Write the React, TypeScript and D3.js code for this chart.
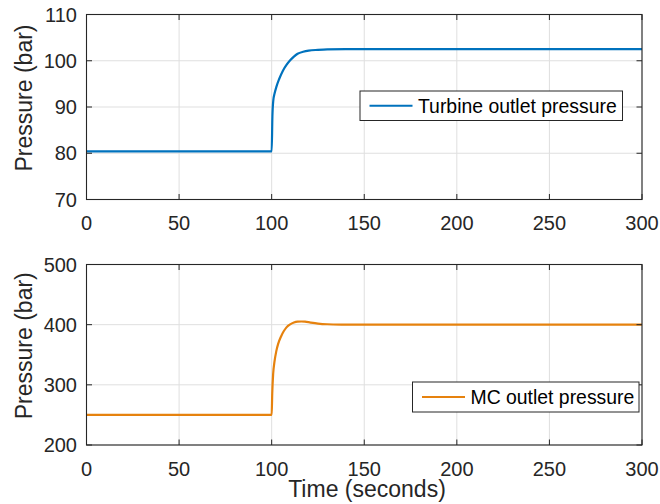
import React from "react";
import * as d3 from "d3";

// Time (s) and pressure (bar) samples for the two outlet pressure traces
const turbineTime = [0, 100, 100.4, 100.9, 101.5, 102.5, 104, 106, 108, 110, 112, 114, 117, 120, 125, 130, 140, 160, 300];
const turbinePressure = [80.4, 80.4, 88, 91.5, 92.8, 94.3, 96.0, 97.8, 99.1, 100.1, 100.9, 101.5, 101.95, 102.2, 102.35, 102.45, 102.5, 102.5, 102.5];

const mcTime = [0, 100, 100.3, 100.8, 101.5, 102.5, 103.5, 105, 106.5, 108, 110, 112, 114, 116, 118, 121, 125, 130, 138, 150, 300];
const mcPressure = [250, 250, 285, 318, 338, 356, 368, 380, 389, 395.5, 400.5, 403.5, 405, 405.3, 405, 403.5, 401.8, 400.7, 400.2, 400, 400];

const xTicks = [0, 50, 100, 150, 200, 250, 300];
const turbineTicks = [70, 80, 90, 100, 110];
const mcTicks = [200, 300, 400, 500];

const W = 660;
const H = 504;
const LEFT = 86.5;
const RIGHT = 642;
const FONT = "'Liberation Sans', Arial, Helvetica, sans-serif";
const AXIS = "#262626";
const GRID = "#dfdfdf";

type PanelProps = {
  top: number;
  bottom: number;
  times: number[];
  values: number[];
  domain: [number, number];
  yTicks: number[];
  color: string;
  label: string;
  legend: { x0: number; x1: number; y0: number; y1: number };
};

function Panel({ top, bottom, times, values, domain, yTicks, color, label, legend }: PanelProps) {
  const x = d3.scaleLinear().domain([0, 300]).range([LEFT, RIGHT]);
  const y = d3.scaleLinear().domain(domain).range([bottom, top]);
  const pts: [number, number][] = times.map((t, i) => [t, values[i]]);
  const line = d3
    .line<[number, number]>()
    .x((d) => x(d[0]))
    .y((d) => y(d[1]))
    .curve(d3.curveMonotoneX);
  const tickLen = 5.5;
  const midY = (top + bottom) / 2;
  const legMid = (legend.y0 + legend.y1) / 2;
  return (
    <g>
      {/* grid */}
      {xTicks.map((t) => (
        <line key={"gx" + t} x1={x(t)} x2={x(t)} y1={top} y2={bottom} stroke={GRID} strokeWidth={1} />
      ))}
      {yTicks.map((t) => (
        <line key={"gy" + t} x1={LEFT} x2={RIGHT} y1={y(t)} y2={y(t)} stroke={GRID} strokeWidth={1} />
      ))}
      {/* data */}
      <path d={line(pts) || ""} fill="none" stroke={color} strokeWidth={2.2} strokeLinejoin="round" />
      {/* box and ticks */}
      <rect x={LEFT} y={top} width={RIGHT - LEFT} height={bottom - top} fill="none" stroke={AXIS} strokeWidth={1.1} />
      {xTicks.map((t) => (
        <g key={"tx" + t}>
          <line x1={x(t)} x2={x(t)} y1={bottom} y2={bottom - tickLen} stroke={AXIS} />
          <line x1={x(t)} x2={x(t)} y1={top} y2={top + tickLen} stroke={AXIS} />
          <text x={x(t)} y={bottom + 30.5} textAnchor="middle" fontSize={20} fill={AXIS} fontFamily={FONT}>
            {t}
          </text>
        </g>
      ))}
      {yTicks.map((t) => (
        <g key={"ty" + t}>
          <line x1={LEFT} x2={LEFT + tickLen} y1={y(t)} y2={y(t)} stroke={AXIS} />
          <line x1={RIGHT} x2={RIGHT - tickLen} y1={y(t)} y2={y(t)} stroke={AXIS} />
          <text x={77} y={y(t) + 7} textAnchor="end" fontSize={20} fill={AXIS} fontFamily={FONT}>
            {t}
          </text>
        </g>
      ))}
      <text
        transform={`translate(32, ${midY - 9}) rotate(-90)`}
        textAnchor="middle"
        fontSize={23}
        fill={AXIS}
        fontFamily={FONT}
      >
        Pressure (bar)
      </text>
      {/* legend */}
      <rect
        x={legend.x0}
        y={legend.y0}
        width={legend.x1 - legend.x0}
        height={legend.y1 - legend.y0}
        fill="#fff"
        stroke={AXIS}
        strokeWidth={1}
      />
      <line x1={legend.x0 + 9.5} x2={legend.x0 + 52.5} y1={legMid} y2={legMid} stroke={color} strokeWidth={2.2} />
      <text x={legend.x0 + 58} y={legMid + 7} fontSize={19.4} fill="#000" fontFamily={FONT}>
        {label}
      </text>
    </g>
  );
}

export default function App() {
  return (
    <svg width={W} height={H} style={{ position: "absolute", left: 0, top: 0, background: "#fff" }}>
      <rect width={W} height={H} fill="#fff" />
      <Panel
        top={14.5}
        bottom={199.5}
        times={turbineTime}
        values={turbinePressure}
        domain={[70, 110]}
        yTicks={turbineTicks}
        color="#0072BD"
        label="Turbine outlet pressure"
        legend={{ x0: 360, x1: 622.5, y0: 91, y1: 120.5 }}
      />
      <Panel
        top={264.5}
        bottom={445}
        times={mcTime}
        values={mcPressure}
        domain={[200, 500]}
        yTicks={mcTicks}
        color="#E6820E"
        label="MC outlet pressure"
        legend={{ x0: 412.5, x1: 639, y0: 382, y1: 412 }}
      />
      <text x={367} y={497} textAnchor="middle" fontSize={23} fill={AXIS} fontFamily={FONT}>
        Time (seconds)
      </text>
    </svg>
  );
}
